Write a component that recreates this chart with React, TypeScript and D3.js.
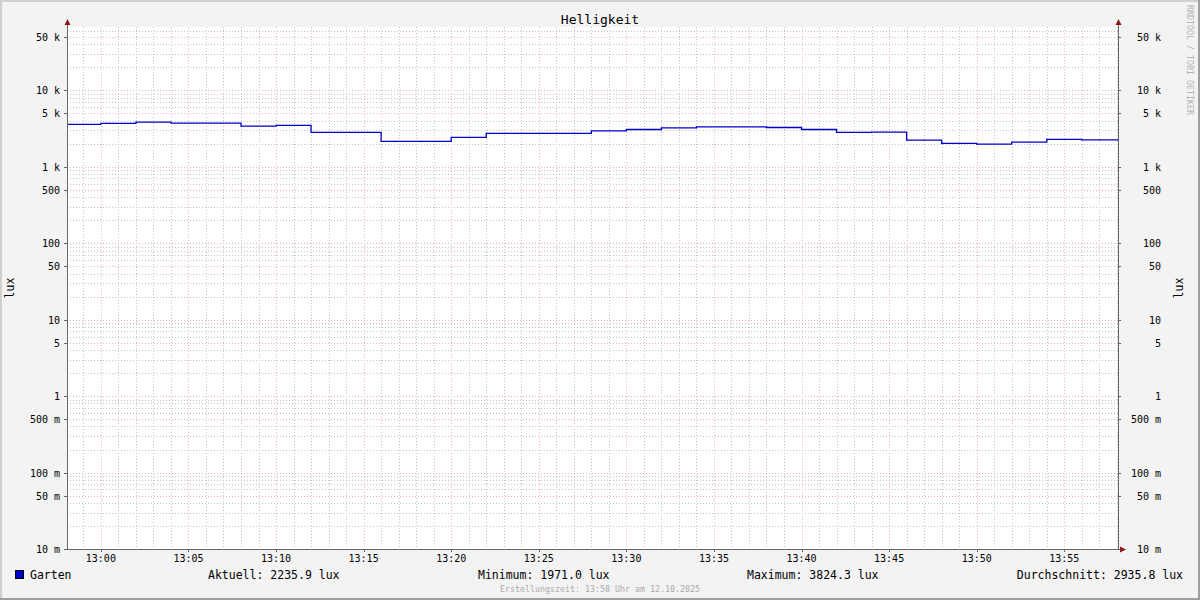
import React from "react";
import * as d3 from "d3";

// ---- data ----
const stepStartMinutes: number[] = [
  -2, 0, 2, 4, 6, 8, 10, 12, 14, 16, 18, 20, 22, 24, 26, 28, 30, 32, 34, 36, 38, 40, 42, 44, 46, 48, 50, 52, 54, 56,
]; // minutes after 13:00
const luxValues: number[] = [
  3564, 3670, 3824.3, 3715, 3715, 3385, 3456, 2800, 2800, 2135, 2135, 2410, 2717, 2717, 2717, 2940, 3061, 3215,
  3313, 3313, 3250, 3061, 2800, 2825, 2220, 2010, 1971.0, 2090, 2270, 2235.9,
];
const yTickValues: number[] = [0.01, 0.05, 0.1, 0.5, 1, 5, 10, 50, 100, 500, 1000, 5000, 10000, 50000];
const yTickLabels: string[] = ["10 m", "50 m", "100 m", "500 m", "1", "5", "10", "50", "100", "500", "1 k", "5 k", "10 k", "50 k"];
const legendItems: string[] = ["Aktuell: 2235.9 lux", "Minimum: 1971.0 lux", "Maximum: 3824.3 lux", "Durchschnitt: 2935.8 lux"];
const seriesName = "Garten";
const title = "Helligkeit";
const yLabel = "lux";
const footer = "Erstellungszeit: 13:58 Uhr am 12.10.2025";
const watermark = "RRDTOOL / TOBI OETIKER";

const W = 1200;
const H = 600;
const X0 = 67;
const X1 = 1118;
const Y0 = 27;
const Y1 = 549;
const FONT = "'DejaVu Sans Mono', monospace";
const LINE = "#0000cc";
const AXIS = "#666666";
const ARROW = "#8b1a1a";
const GRID = "#c4c4c4";
const MGRID = "#f0b4b4";

const base = new Date(2025, 9, 12, 13, 0, 0);
const tStart = new Date(2025, 9, 12, 12, 58, 4);
const tEnd = new Date(2025, 9, 12, 13, 58, 4);

export default function App() {
  const x = d3.scaleTime().domain([tStart, tEnd]).range([X0, X1]);
  const y = d3.scaleLog().domain([0.01, 67000]).range([Y1, Y0]);

  const pts: [Date, number][] = stepStartMinutes.map((m, i) => {
    const d = new Date(base.getTime() + m * 60000);
    return [d < tStart ? tStart : d, luxValues[i]];
  });
  pts.push([tEnd, luxValues[luxValues.length - 1]]);
  const line = d3
    .line<[Date, number]>()
    .x((d) => x(d[0]))
    .y((d) => y(d[1]))
    .curve(d3.curveStepAfter);

  const minuteTicks = d3.timeMinute.range(tStart, tEnd);
  const majorTimeTicks = minuteTicks.filter((d) => d.getMinutes() % 5 === 0);
  const minorTimeTicks = minuteTicks.filter((d) => d.getMinutes() % 5 !== 0);
  const fmt = d3.timeFormat("%H:%M");

  const minorY: number[] = [];
  for (let e = -2; e <= 4; e++) {
    for (let m = 1; m <= 9; m++) {
      const v = m * Math.pow(10, e);
      if (v >= 0.01 && v <= 67000 && m !== 1 && m !== 5) minorY.push(v);
    }
  }

  const legendX = [208, 478, 747];

  return (
    <svg
      width={W}
      height={H}
      style={{ position: "absolute", left: 0, top: 0, display: "block" }}
      fontFamily={FONT}
    >
      <rect x={0} y={0} width={W} height={H} fill="#f3f3f3" />
      {/* shaded frame */}
      <rect x={0} y={0} width={W} height={2} fill="#cfcfcf" />
      <rect x={0} y={0} width={2} height={H} fill="#cfcfcf" />
      <rect x={0} y={H - 2} width={W} height={2} fill="#9e9e9e" />
      <rect x={W - 2} y={0} width={2} height={H} fill="#9e9e9e" />

      {/* canvas */}
      <rect x={X0} y={Y0} width={X1 - X0} height={Y1 - Y0} fill="#ffffff" />

      {/* minor grid */}
      <g stroke={GRID} strokeWidth={1} strokeDasharray="1,2" shapeRendering="crispEdges">
        {minorTimeTicks.map((d, i) => (
          <line key={"vx" + i} x1={Math.round(x(d)) + 0.5} x2={Math.round(x(d)) + 0.5} y1={Y0} y2={Y1} />
        ))}
        {minorY.map((v, i) => (
          <line key={"hy" + i} x1={X0} x2={X1} y1={Math.round(y(v)) + 0.5} y2={Math.round(y(v)) + 0.5} />
        ))}
      </g>
      {/* major grid */}
      <g stroke={MGRID} strokeWidth={1} strokeDasharray="1,2" shapeRendering="crispEdges">
        {majorTimeTicks.map((d, i) => (
          <line key={"mx" + i} x1={Math.round(x(d)) + 0.5} x2={Math.round(x(d)) + 0.5} y1={Y0} y2={Y1} />
        ))}
        {yTickValues.map((v, i) => (
          <line key={"my" + i} x1={X0} x2={X1} y1={Math.round(y(v)) + 0.5} y2={Math.round(y(v)) + 0.5} />
        ))}
      </g>

      {/* data line */}
      <path d={line(pts) || ""} fill="none" stroke={LINE} strokeWidth={1.3} />

      {/* axes */}
      <g stroke={AXIS} strokeWidth={1} shapeRendering="crispEdges">
        <line x1={X0 + 0.5} x2={X0 + 0.5} y1={Y1} y2={22} />
        <line x1={X1 + 0.5} x2={X1 + 0.5} y1={Y1} y2={22} />
        <line x1={X0 - 3} x2={X1 + 3} y1={Y1 + 0.5} y2={Y1 + 0.5} />
        {yTickValues.map((v, i) => (
          <React.Fragment key={"yt" + i}>
            <line x1={X0 - 3} x2={X0} y1={Math.round(y(v)) + 0.5} y2={Math.round(y(v)) + 0.5} />
            <line x1={X1} x2={X1 + 3} y1={Math.round(y(v)) + 0.5} y2={Math.round(y(v)) + 0.5} />
          </React.Fragment>
        ))}
        {majorTimeTicks.map((d, i) => (
          <line key={"xt" + i} x1={Math.round(x(d)) + 0.5} x2={Math.round(x(d)) + 0.5} y1={Y1} y2={Y1 + 3} />
        ))}
      </g>
      {/* arrows */}
      <path d={`M${X0 - 2.5},${25} L${X0 + 0.5},${19} L${X0 + 3.5},${25} Z`} fill={ARROW} />
      <path d={`M${X1 - 2.5},${25} L${X1 + 0.5},${19} L${X1 + 3.5},${25} Z`} fill={ARROW} />
      <path d={`M${X1 + 2},${Y1 - 2.5} L${X1 + 8},${Y1 + 0.5} L${X1 + 2},${Y1 + 3.5} Z`} fill={ARROW} />

      {/* y tick labels */}
      <g fontSize={10} fill="#000">
        {yTickValues.map((v, i) => (
          <React.Fragment key={"yl" + i}>
            <text x={60} y={y(v) + 4} textAnchor="end">
              {yTickLabels[i]}
            </text>
            <text x={1161} y={y(v) + 4} textAnchor="end">
              {yTickLabels[i]}
            </text>
          </React.Fragment>
        ))}
      </g>
      {/* x tick labels */}
      <g fontSize={10} fill="#000">
        {majorTimeTicks.map((d, i) => (
          <text key={"xl" + i} x={x(d)} y={562} textAnchor="middle">
            {fmt(d)}
          </text>
        ))}
      </g>

      {/* title */}
      <text x={600} y={24} textAnchor="middle" fontSize={13}>
        {title}
      </text>

      {/* y axis titles */}
      <text transform={`translate(14,${(Y0 + Y1) / 2}) rotate(-90)`} textAnchor="middle" fontSize={11.5}>
        {yLabel}
      </text>
      <text transform={`translate(1183,${(Y0 + Y1) / 2}) rotate(-90)`} textAnchor="middle" fontSize={11.5}>
        {yLabel}
      </text>

      {/* watermark */}
      <text transform="translate(1187,5) rotate(90)" fontSize={8.3} fill="#b4b4b4">
        {watermark}
      </text>

      {/* legend */}
      <rect x={15.5} y={570.5} width={8} height={8} fill={LINE} stroke="#000" strokeWidth={1} />
      <text x={30} y={579} fontSize={11.5}>
        {seriesName}
      </text>
      {legendItems.slice(0, 3).map((t, i) => (
        <text key={"lg" + i} x={legendX[i]} y={579} fontSize={11.5}>
          {t}
        </text>
      ))}
      <text x={1183} y={579} fontSize={11.5} textAnchor="end">
        {legendItems[3]}
      </text>

      {/* footer */}
      <text x={600} y={592} textAnchor="middle" fontSize={8.3} fill="#aaaaaa">
        {footer}
      </text>
    </svg>
  );
}
